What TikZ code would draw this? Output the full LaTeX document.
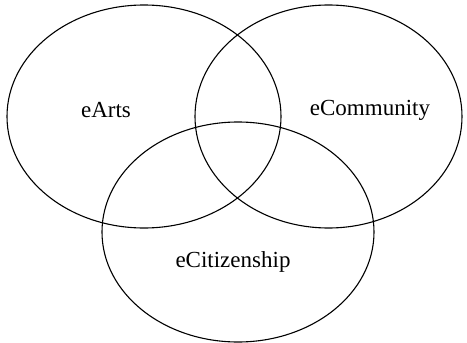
\documentclass[tikz,border=0pt]{standalone}
\usepackage{fontspec}
\setmainfont{Liberation Serif}
\begin{document}
\begin{tikzpicture}[x=1pt,y=-1pt,
  setring/.style={draw=black,line width=1.1pt},
  setlabel/.style={font=\fontsize{23}{27}\selectfont,inner sep=0pt}]
\useasboundingbox (0,0) rectangle (467,343);
\draw[setring] (144,116.5) ellipse [x radius=137, y radius=111.5];
\draw[setring] (328.5,116.5) ellipse [x radius=133.5, y radius=111.5];
\draw[setring] (238,232) ellipse [x radius=136, y radius=110];
\node[setlabel] (arts) at (106,110) {eArts};
\node[setlabel] (comm) at (370,110) {eCommunity};
\node[setlabel] (citi) at (233,262) {eCitizenship};
\end{tikzpicture}
\end{document}
